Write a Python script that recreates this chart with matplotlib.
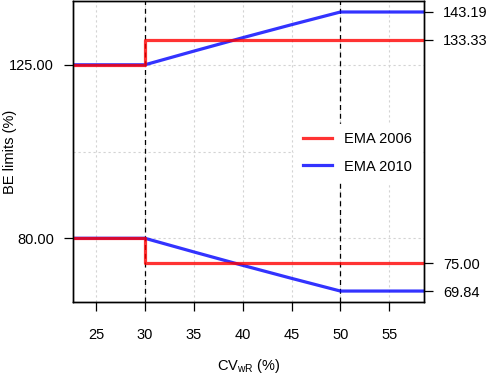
import numpy as np
import matplotlib
matplotlib.use('Agg')
import matplotlib.pyplot as plt
from matplotlib import rcParams
from matplotlib.ticker import NullLocator, FixedLocator

rcParams['font.family'] = 'sans-serif'
rcParams['font.sans-serif'] = ['Liberation Sans', 'DejaVu Sans']
rcParams['font.size'] = 10.5

# CVwR (%) and BE limits (%)
cv_2006 = [20, 30, 30, 60]
upper_2006 = [125.00, 125.00, 133.33, 133.33]
lower_2006 = [80.00, 80.00, 75.00, 75.00]

cv_2010 = [20, 30, 35, 40, 45, 50, 60]
upper_2010 = [125.00, 125.00, 129.47, 134.02, 138.59, 143.19, 143.19]
lower_2010 = [80.00, 80.00, 77.24, 74.62, 72.16, 69.84, 69.84]

left_ticks = [80.00, 125.00]
right_ticks = [143.19, 133.33, 75.00, 69.84]
x_ticks = [25, 30, 35, 40, 45, 50, 55]
x_tick_labels = ['25', '30', '35', '40', '45', '50', '55']
switch_cv = [30, 50]

fig = plt.figure(figsize=(4.87, 3.76), dpi=100)
ax = fig.add_axes([73 / 487, (376 - 302) / 376, (424 - 73) / 487, 301 / 376])
ax.set_yscale('log')
ax.set_xlim(22.65, 58.55)
ax.set_ylim(67.9, 147.3)

# grid
for x in x_ticks:
    ax.axvline(x, color='lightgray', lw=0.8, ls=(0, (2, 2.5)), zorder=0)
for y in [80, 100, 125]:
    ax.axhline(y, color='lightgray', lw=0.8, ls=(0, (2, 2.5)), zorder=0)
for x in switch_cv:
    ax.axvline(x, color='black', lw=0.9, ls=(0, (4, 3)), zorder=1)

lw = 2.3
ax.plot(cv_2010, upper_2010, color='blue', alpha=0.8, lw=lw, zorder=2)
ax.plot(cv_2010, lower_2010, color='blue', alpha=0.8, lw=lw, zorder=2)
ax.plot(cv_2006, upper_2006, color='red', alpha=0.8, lw=lw, zorder=3)
ax.plot(cv_2006, lower_2006, color='red', alpha=0.8, lw=lw, zorder=3)

# legend proxies
h1, = ax.plot([], [], color='red', alpha=0.8, lw=lw, label='EMA 2006')
h2, = ax.plot([], [], color='blue', alpha=0.8, lw=lw, label='EMA 2010')
leg = ax.legend(handles=[h1, h2], loc='center', bbox_to_anchor=(0.81, 0.495),
                frameon=True, fancybox=False, edgecolor='white', framealpha=1,
                handlelength=2.0, handletextpad=0.8, labelspacing=0.9,
                fontsize=10.5, borderpad=0.6)
leg.set_zorder(5)

ax.yaxis.set_major_locator(FixedLocator(left_ticks))
ax.yaxis.set_minor_locator(NullLocator())
ax.set_yticklabels(['%.2f' % v for v in left_ticks])
ax.set_xticks(x_ticks)
ax.set_xticklabels(x_tick_labels)
ax.tick_params(axis='both', length=6.5, width=0.9, direction='out')
ax.tick_params(axis='y', pad=7)
ax.tick_params(axis='x', pad=12)

ax2 = ax.twinx()
ax2.set_yscale('log')
ax2.set_ylim(ax.get_ylim())
ax2.yaxis.set_major_locator(FixedLocator(right_ticks))
ax2.yaxis.set_minor_locator(NullLocator())
ax2.set_yticklabels(['%.2f' % v for v in right_ticks])
ax2.tick_params(axis='y', length=6.5, width=0.9, pad=7)

for a in (ax, ax2):
    for s in a.spines.values():
        s.set_linewidth(1.0)

ax.set_xlabel('CV$_{\\mathregular{wR}}$ (%)', labelpad=11)
ax.set_ylabel('BE limits (%)')
ax.yaxis.set_label_coords(-0.16, 0.5)

fig.savefig('out.png', dpi=100)
